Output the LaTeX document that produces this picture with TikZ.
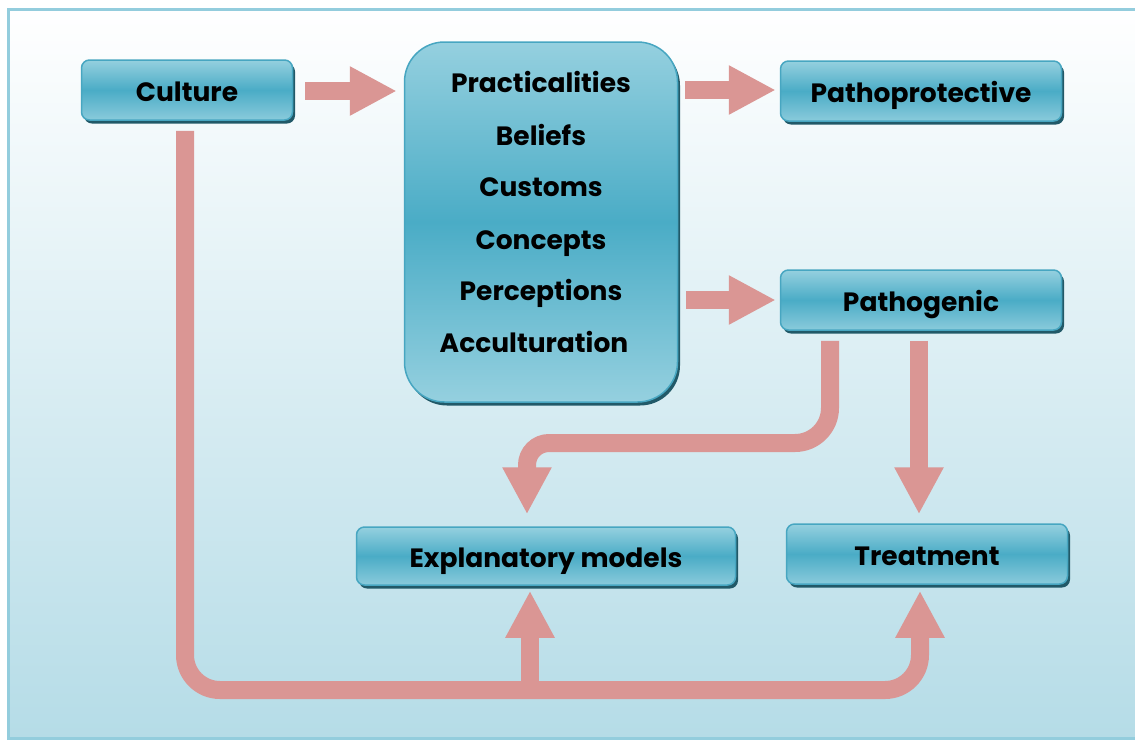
\documentclass[tikz,border=0pt]{standalone}
\usepackage{fontspec}
\setmainfont{Poppins}[BoldFont={Poppins Bold}]
\usetikzlibrary{arrows.meta,shadows}
\definecolor{arrowc}{HTML}{DA9694}
\definecolor{boxlight}{HTML}{95D0DF}
\definecolor{boxmid}{HTML}{4AACC6}
\definecolor{boxline}{HTML}{47A6C1}
\definecolor{shadowc}{HTML}{215968}
\definecolor{bgbottom}{HTML}{B5DCE7}
\definecolor{framec}{HTML}{93CDDD}
\tikzset{
  box/.style={rounded corners=8pt, draw=boxline, line width=1.5pt,
    top color=boxlight, bottom color=boxlight!85!boxmid, middle color=boxmid,
    drop shadow={shadow xshift=2.5pt, shadow yshift=-3.5pt, fill=shadowc, opacity=1},
    font=\fontsize{26.5}{30}\selectfont\bfseries, inner sep=0pt,
    text height=22.5pt, text depth=0pt},
  bigbox/.style={rounded corners=40pt, draw=boxline, line width=1.5pt,
    top color=boxlight, bottom color=boxlight, middle color=boxmid,
    drop shadow={shadow xshift=2.5pt, shadow yshift=-3.5pt, fill=shadowc, opacity=1},
    inner sep=0pt},
  itemtxt/.style={font=\fontsize{26.5}{30}\selectfont\bfseries, inner sep=0pt,
    text height=19pt, text depth=0pt},
  blk/.style={draw=arrowc, line width=18pt, line cap=butt,
    -{Triangle[width=46pt,length=47pt]}},
}
\begin{document}
\begin{tikzpicture}[x=1pt,y=-1pt]
\useasboundingbox (0,0) rectangle (1135,740);
\shade[top color=white, bottom color=bgbottom] (8,9) rectangle (1135,738);
\draw[framec, line width=3pt] (1137,9) -- (8,9) -- (8,738) -- (1137,738);

\node[box, minimum width=211pt, minimum height=60pt] (culture) at (187,90) {Culture};
\node[bigbox, minimum width=273pt, minimum height=360pt] (mid) at (541,222) {};
\node[itemtxt] (t1) at (541,83) {Practicalities};
\node[itemtxt] (t2) at (541,136) {Beliefs};
\node[itemtxt] (t3) at (541,187) {Customs};
\node[itemtxt] (t4) at (541,240) {Concepts};
\node[itemtxt] (t5) at (541,291) {Perceptions};
\node[itemtxt] (t6) at (534,343) {Acculturation};
\node[box, minimum width=281pt, minimum height=60pt] (pprot) at (921,91) {Pathoprotective};
\node[box, minimum width=281pt, minimum height=60pt] (pgen) at (921,300) {Pathogenic};
\node[box, minimum width=379pt, minimum height=58pt] (expl) at (546,556) {Explanatory models};
\node[box, minimum width=281pt, minimum height=60pt] (treat) at (927,554) {Treatment};

\draw[blk, shorten <=12pt, shorten >=7pt] (culture.east |- 0,91) -- (mid.west |- 0,91);
\draw[blk, shorten <=7pt, shorten >=4pt] (mid.east |- 0,90) -- (pprot.west |- 0,90);
\draw[blk, shorten <=8pt, shorten >=4pt] (mid.east |- 0,300) -- (pgen.west);
\draw[blk, shorten <=10pt, shorten >=9pt] ([xshift=-2pt]pgen.south) -- ([xshift=-8pt]treat.north);
\draw[blk, shorten >=12pt] ([xshift=-91pt,yshift=-10pt]pgen.south) [rounded corners=35pt] -- (830,443) [rounded corners=22pt] -- (527,443) [sharp corners] -- ([xshift=-19pt]expl.north);
\draw[blk, shorten >=6pt, rounded corners=35pt] ([xshift=-2pt,yshift=-10pt]culture.south) -- (185,690) -- (920,690) [sharp corners] -- ([xshift=-7pt]treat.south);
\draw[blk, shorten >=5pt] (530,698) -- ([xshift=-16pt]expl.south);
\end{tikzpicture}
\end{document}
